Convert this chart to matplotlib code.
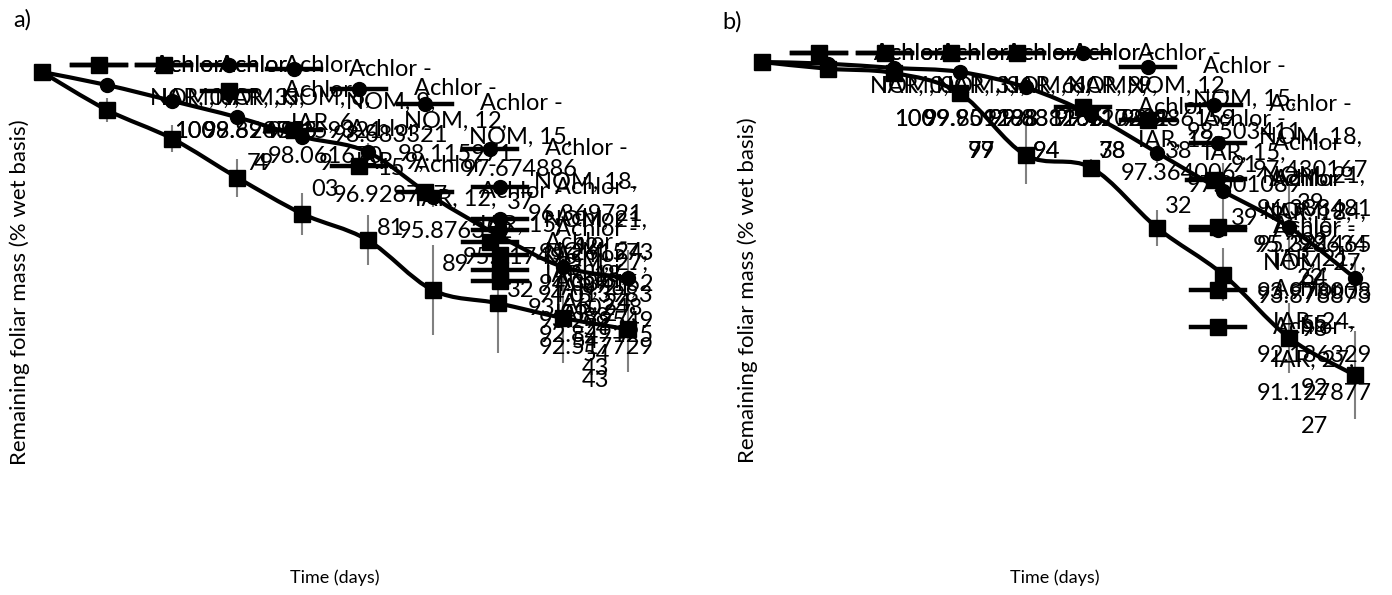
import matplotlib
matplotlib.use("Agg")
import matplotlib.pyplot as plt
from matplotlib.path import Path
from matplotlib.patches import PathPatch
from matplotlib.lines import Line2D

# ---------------- data ----------------
days = [0, 3, 6, 9, 12, 15, 18, 21, 24, 27]
series_prefix = "Achlor -"

a_nom = [100, 99.62071579, 99.15932190, 98.68332115, 98.11597100, 97.67488637,
         96.36972142, 95.26157389, 94.33416288, 94.01398354]
a_nom_err = [0, 0.15, 0.15, 0.2, 0.2, 0.25, 0.3, 0.35, 0.55, 0.8]
a_iar = [100, 98.89485340, 98.06167003, 96.92876781, 95.87635289, 95.11749632,
         93.66024854, 93.27954954, 92.84912543, 92.51772943]
a_iar_err = [0, 0.35, 0.40, 0.55, 0.61, 0.73, 1.30, 1.45, 1.30, 1.25]

b_nom = [100, 99.95128379, 99.83115694, 99.72032178, 99.28615938, 98.50341191,
         97.43016739, 96.33848122, 95.32146564, 93.87887398]
b_nom_err = [0, 0.1, 0.1, 0.1, 0.15, 0.2, 0.3, 0.8, 1.2, 0.6]
b_iar = [100, 99.80919897, 99.68826594, 99.11724938, 97.36400632, 97.00108939,
         95.29863422, 93.97800855, 92.18632992, 91.12787727]
b_iar_err = [0, 0.1, 0.15, 0.2, 0.83, 0.25, 0.5, 0.76, 1.0, 1.25]

panel_letters = ["a)", "b)"]
ylabel = "Remaining foliar mass (% wet basis)"
xlabel = "Time (days)"

# ---------------- style ----------------
W, H = 1392, 595
FONT = "Lato"
plt.rcParams["font.family"] = [FONT, "DejaVu Sans"]
fig = plt.figure(figsize=(W / 100, H / 100), dpi=100)


def fx(px):
    return px / W


def fy(py):
    return 1 - py / H


def smooth_path(xs, ys):
    pts = list(zip(xs, ys))
    n = len(pts)
    verts = [pts[0]]
    codes = [Path.MOVETO]
    for i in range(n - 1):
        p0 = pts[i - 1] if i > 0 else pts[i]
        p1 = pts[i]
        p2 = pts[i + 1]
        p3 = pts[i + 2] if i + 2 < n else pts[i + 1]
        c1 = (p1[0] + (p2[0] - p0[0]) / 6, p1[1] + (p2[1] - p0[1]) / 6)
        c2 = (p2[0] - (p3[0] - p1[0]) / 6, p2[1] - (p3[1] - p1[1]) / 6)
        verts += [c1, c2, p2]
        codes += [Path.CURVE4] * 3
    return Path(verts, codes)


def fmt_value(v):
    s = f"{v:.8f}".rstrip("0").rstrip(".")
    if len(s) > 9:
        return [s[:9], s[9:]]
    return [s]


def draw_panel(rect_px, ylim, nom, nom_err, iar, iar_err, kx_max, ky_min):
    left, top, right, bottom = rect_px
    ax = fig.add_axes([fx(left), fy(bottom), (right - left) / W, (bottom - top) / H])
    ax.set_xlim(-0.55, 27.55)
    ax.set_ylim(*ylim)
    ax.axis("off")
    specs = [(nom, nom_err, "o", 10, "NOM"), (iar, iar_err, "s", 12, "IAR")]
    for vals, errs, mk, ms, _ in specs:
        ax.errorbar(days, vals, yerr=errs, fmt="none", ecolor="#808080",
                    elinewidth=1.5, capsize=0, zorder=2)
        ax.add_patch(PathPatch(smooth_path(days, vals), facecolor="none",
                               edgecolor="black", lw=3, zorder=3))
        ax.plot(days, vals, linestyle="none", marker=mk, ms=ms, color="black", zorder=4)
    # data labels with legend keys
    for vals, errs, mk, ms, name in specs:
        for d, v in zip(days, vals):
            dx, dy = ax.transData.transform((d, v))
            px, py = dx, H - dy
            kx = min(px + 57, kx_max)
            ky = max(py - 48, ky_min)
            fig.add_artist(Line2D([fx(kx - 27), fx(kx + 27)], [fy(ky), fy(ky)],
                                  transform=fig.transFigure, color="black", lw=3.2,
                                  zorder=5))
            fig.add_artist(Line2D([fx(kx)], [fy(ky)], transform=fig.transFigure,
                                  marker=mk, ms=ms, color="black", linestyle="none",
                                  zorder=5))
            fig.text(fx(kx + 55), fy(ky), series_prefix, ha="left", va="center",
                     fontsize=17, zorder=6)
            lines = [f"{name}, {d},"] + fmt_value(v)
            for i, ln in enumerate(lines):
                fig.text(fx(kx + 96), fy(ky + 33 * (i + 1)), ln, ha="center",
                         va="center", fontsize=17, zorder=6)
    return ax


draw_panel((30, 55, 640, 530), (100 - 458 / 34.4, 100 + 17 / 34.4),
           a_nom, a_nom_err, a_iar, a_iar_err, kx_max=500, ky_min=65)
draw_panel((750, 50, 1367, 530), (100 - 468 / 35.3, 100 + 12 / 35.3),
           b_nom, b_nom_err, b_iar, b_iar_err, kx_max=1218, ky_min=53)

# panel letters and axis titles
fig.text(fx(13), fy(20), panel_letters[0], fontsize=17, ha="left", va="center")
fig.text(fx(722), fy(22), panel_letters[1], fontsize=17, ha="left", va="center")
fig.text(fx(20), fy(292), ylabel, rotation=90, fontsize=16, ha="center", va="center")
fig.text(fx(748), fy(290), ylabel, rotation=90, fontsize=16, ha="center", va="center")
fig.text(fx(335), fy(578), xlabel, fontsize=13, ha="center", va="center")
fig.text(fx(1055), fy(578), xlabel, fontsize=13, ha="center", va="center")

fig.savefig("out.png", dpi=100)
